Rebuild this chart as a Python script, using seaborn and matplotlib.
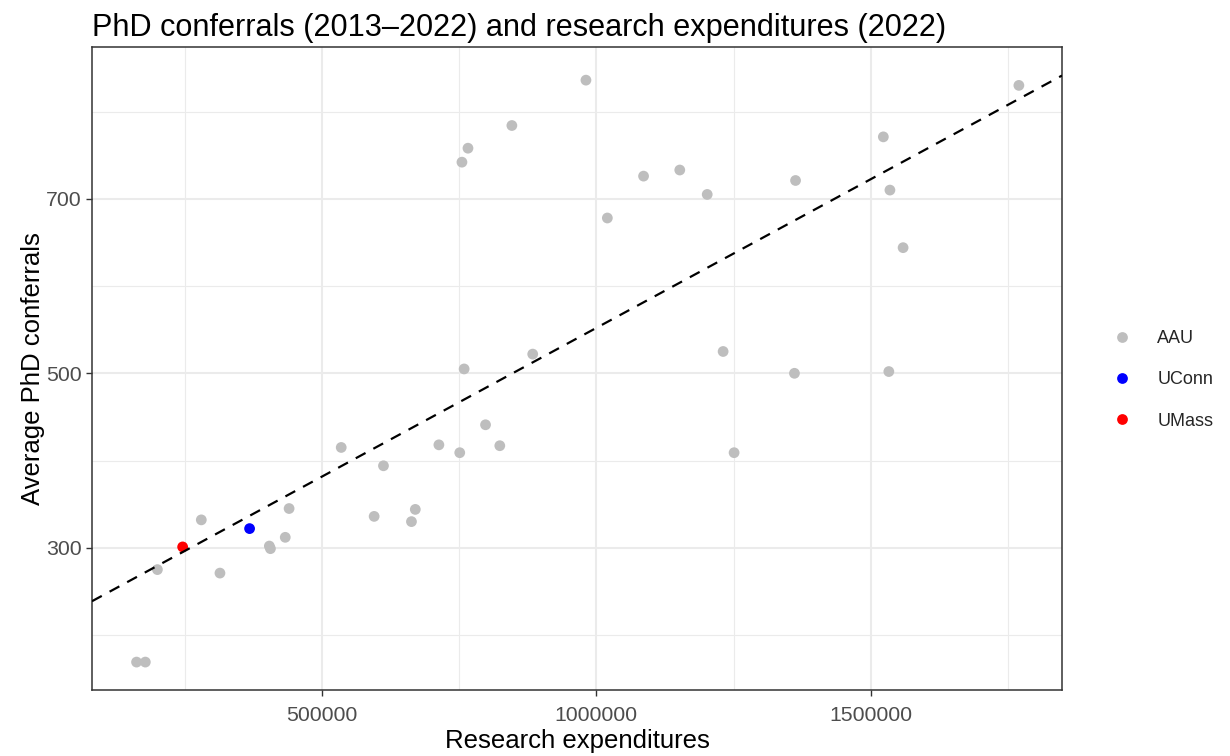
import matplotlib
matplotlib.use("Agg")
import matplotlib.pyplot as plt
import matplotlib.ticker as mticker
import seaborn as sns
import pandas as pd
import numpy as np

# ---- data ----
aau_expenditures = [981000, 846000, 766000, 755000, 884000, 759000, 1770000, 1020000,
                    1086000, 1152000, 1202000, 1363000, 1523000, 1535000, 1559000,
                    1231000, 1361000, 1533000, 1251000, 535000, 612000, 713000, 751000,
                    798000, 824000, 440000, 595000, 670000, 663000, 280000, 433000,
                    404000, 406000, 200000, 314000, 162000, 178000]
aau_phd = [836, 784, 758, 742, 522, 505, 830, 678, 726, 733, 705, 721, 771, 710, 644,
           525, 500, 502, 409, 415, 394, 418, 409, 441, 417, 345, 336, 344, 330, 332,
           312, 302, 299, 275, 271, 169, 169]
uconn_expenditures = [368000]
uconn_phd = [322]
umass_expenditures = [246000]
umass_phd = [301]

groups = ["AAU", "UConn", "UMass"]
group_colors = ["#BEBEBE", "#0000FF", "#FF0000"]
x_ticks = [500000, 1000000, 1500000]
y_ticks = [300, 500, 700]
x_minor = [250000, 750000, 1250000, 1750000]
y_minor = [200, 400, 600, 800]
x_limits = (80800, 1848600)
y_limits = (137, 874)

df = pd.DataFrame({
    "exp": aau_expenditures + uconn_expenditures + umass_expenditures,
    "phd": aau_phd + uconn_phd + umass_phd,
    "group": ["AAU"] * len(aau_phd) + ["UConn"] * len(uconn_phd) + ["UMass"] * len(umass_phd),
})

sns.set_theme(style="white")
plt.rcParams["font.family"] = ["Liberation Sans", "DejaVu Sans"]

fig = plt.figure(figsize=(12.3, 7.56), dpi=100)
ax = fig.add_axes([92 / 1230, 1 - 690 / 756, (1062 - 92) / 1230, (690 - 47) / 756])

ax.set_xlim(*x_limits)
ax.set_ylim(*y_limits)

sns.regplot(data=df, x="exp", y="phd", scatter=False, ci=None, truncate=False, ax=ax,
            line_kws=dict(color="black", lw=1.6, dashes=(5, 4), zorder=3))

sns.scatterplot(data=df, x="exp", y="phd", hue="group", hue_order=groups,
                palette=group_colors, s=60, edgecolor="none", linewidth=0, ax=ax, zorder=2)

ax.set_xlim(*x_limits)
ax.set_ylim(*y_limits)

# grid
ax.xaxis.set_major_locator(mticker.FixedLocator(x_ticks))
ax.yaxis.set_major_locator(mticker.FixedLocator(y_ticks))
ax.xaxis.set_minor_locator(mticker.FixedLocator(x_minor))
ax.yaxis.set_minor_locator(mticker.FixedLocator(y_minor))
ax.xaxis.set_major_formatter(mticker.StrMethodFormatter("{x:.0f}"))
ax.grid(which="major", color="#EBEBEB", lw=1.5)
ax.grid(which="minor", color="#EBEBEB", lw=0.8)
ax.set_axisbelow(True)

for s in ax.spines.values():
    s.set_color("#333333")
    s.set_linewidth(1.1)

ax.tick_params(which="major", direction="out", length=4.5, width=1.0, color="#333333",
               labelsize=15.3, labelcolor="#4D4D4D", bottom=True, left=True)
ax.tick_params(axis="x", which="major", pad=7)
ax.tick_params(axis="y", which="major", pad=3)
ax.tick_params(which="minor", length=0)

ax.set_xlabel("Research expenditures", fontsize=18.5, color="black", labelpad=3)
ax.set_ylabel("Average PhD conferrals", fontsize=18.5, color="black", labelpad=1)
ax.set_title("PhD conferrals (2013\u20132022) and research expenditures (2022)",
             loc="left", fontsize=22.1, pad=8, color="black")

sns.move_legend(ax, loc="center left", bbox_to_anchor=(1113 / 1230, 1 - 380 / 756),
                bbox_transform=fig.transFigure, frameon=False, title=None,
                fontsize=13, borderpad=0, borderaxespad=0, handlelength=1.0,
                handletextpad=1.45, labelspacing=1.33, markerscale=1.0)

fig.savefig("out.png", dpi=100)
